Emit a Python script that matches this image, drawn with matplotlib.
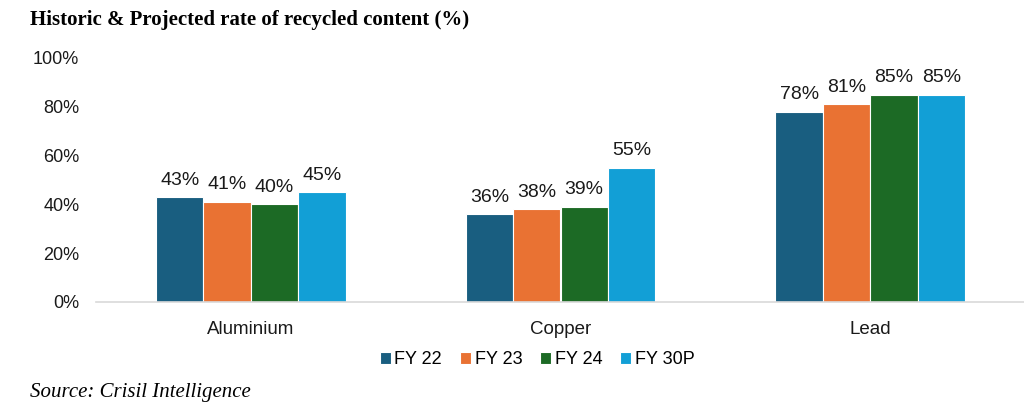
import matplotlib.pyplot as plt
import numpy as np

categories = ["Aluminium", "Copper", "Lead"]
series = ["FY 22", "FY 23", "FY 24", "FY 30P"]
fy22 = [43, 36, 78]
fy23 = [41, 38, 81]
fy24 = [40, 39, 85]
fy30p = [45, 55, 85]
colors = ["#195e80", "#e97233", "#1c6a25", "#129fd6"]

values = [fy22, fy23, fy24, fy30p]

fig = plt.figure(figsize=(10.24, 4.03), dpi=100)
ax = fig.add_axes([96 / 1024, (403 - 302) / 403, 929 / 1024, 244 / 403])

x = np.arange(len(categories))
w = 0.153
for i, (name, vals) in enumerate(zip(series, values)):
    pos = x + (i - 1.5) * w
    bars = ax.bar(pos, vals, w, color=colors[i], edgecolor="white", linewidth=0.8, label=name)
    for b, v in zip(bars, vals):
        ax.text(b.get_x() + b.get_width() / 2, v + 3.5, f"{v}%", ha="center", va="bottom",
                fontsize=14, family="Liberation Sans", color="#1a1a1a")

ax.set_xlim(-0.5, 2.5)
ax.set_ylim(0, 100)
ax.set_yticks(range(0, 101, 20))
ax.set_yticklabels([f"{t}%" for t in range(0, 101, 20)], family="Liberation Sans", fontsize=13)
ax.set_xticks(x)
ax.set_xticklabels(categories, family="Liberation Sans", fontsize=13.5)
ax.tick_params(length=0, colors="#1a1a1a")
ax.tick_params(axis="y", pad=12)
ax.tick_params(axis="x", pad=14)
for s in ["top", "right", "left"]:
    ax.spines[s].set_visible(False)
ax.spines["bottom"].set_color("#d9d9d9")
ax.spines["bottom"].set_linewidth(1.2)

ax.legend(loc="upper center", bbox_to_anchor=(0.475, -0.135), ncol=4, frameon=False,
          prop={"family": "Liberation Sans", "size": 13}, handlelength=0.6, handleheight=0.6,
          handletextpad=0.2, columnspacing=1.0)

fig.text(30 / 1024, 1 - 20 / 403, "Historic & Projected rate of recycled content (%)",
         family="Liberation Serif", fontweight="bold", fontsize=15, va="center")
fig.text(30 / 1024, 1 - 393 / 403, "Source: Crisil Intelligence",
         family="Liberation Serif", style="italic", fontsize=15, va="center")

fig.savefig("out.png", dpi=100)
